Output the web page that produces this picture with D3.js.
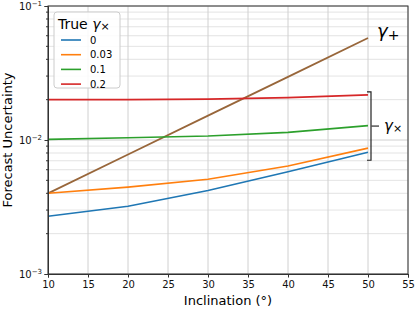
<!DOCTYPE html>
<html>
<head>
<meta charset="utf-8">
<script src="https://cdn.jsdelivr.net/npm/d3@7"></script>
<style>
  body { margin: 0; background: #fff; }
  text { font-family: "DejaVu Sans", sans-serif; }
</style>
</head>
<body>
<div id="chart"></div>
<script>
// data
var inclination = [10, 20, 30, 40, 50];
var trueGammaX = ["0", "0.03", "0.1", "0.2"];
var colors = ["#1f77b4", "#ff7f0e", "#2ca02c", "#d62728"];
var uncGamma0 = [0.0027, 0.0032, 0.0042, 0.0058, 0.0081];
var uncGamma003 = [0.0040, 0.00445, 0.0051, 0.0064, 0.0087];
var uncGamma01 = [0.0101, 0.0104, 0.0107, 0.0114, 0.0128];
var uncGamma02 = [0.0200, 0.0200, 0.0202, 0.0207, 0.0217];
var uncGammaPlus = [0.0040, 0.0078, 0.0152, 0.0296, 0.0577];
var xTicks = [10, 15, 20, 25, 30, 35, 40, 45, 50, 55];
var yMajor = [0.001, 0.01, 0.1];

var series = [uncGamma0, uncGamma003, uncGamma01, uncGamma02];

var margin = { top: 6, right: 7, bottom: 35, left: 48 },
    width = 415 - margin.left - margin.right,
    height = 309 - margin.top - margin.bottom;

var svg = d3.select("#chart")
  .append("svg")
    .attr("width", 415)
    .attr("height", 309)
  .append("g")
    .attr("transform", "translate(" + margin.left + "," + margin.top + ")");

var x = d3.scaleLinear().domain([10, 55]).range([0, width]);
var y = d3.scaleLog().domain([0.001, 0.1]).range([height, 0]);

// minor values on the log axis
var yMinor = [];
[0.001, 0.01].forEach(function (d) {
  for (var k = 2; k <= 9; k++) yMinor.push(d * k);
});

// grid
svg.append("g").selectAll("line.minor")
  .data(yMinor).enter().append("line")
    .attr("x1", 0).attr("x2", width)
    .attr("y1", function (d) { return y(d); })
    .attr("y2", function (d) { return y(d); })
    .attr("stroke", "#dcdcdc").attr("stroke-width", 0.8);
svg.append("g").selectAll("line.major")
  .data(yMajor).enter().append("line")
    .attr("x1", 0).attr("x2", width)
    .attr("y1", function (d) { return y(d); })
    .attr("y2", function (d) { return y(d); })
    .attr("stroke", "#d0d0d0").attr("stroke-width", 1);
svg.append("g").selectAll("line.vx")
  .data(xTicks).enter().append("line")
    .attr("x1", function (d) { return x(d); })
    .attr("x2", function (d) { return x(d); })
    .attr("y1", 0).attr("y2", height)
    .attr("stroke", "#d0d0d0").attr("stroke-width", 1);

// lines
var line = d3.line()
  .x(function (d, i) { return x(inclination[i]); })
  .y(function (d) { return y(d); });

svg.append("path")
  .datum(uncGammaPlus)
  .attr("d", line)
  .attr("fill", "none")
  .attr("stroke", "#98663a")
  .attr("stroke-width", 1.8);

series.forEach(function (s, i) {
  svg.append("path")
    .datum(s)
    .attr("d", line)
    .attr("fill", "none")
    .attr("stroke", colors[i])
    .attr("stroke-width", 1.6);
});

// axes
var xAxis = svg.append("g")
  .attr("transform", "translate(0," + height + ")")
  .call(d3.axisBottom(x).tickValues(xTicks).tickSize(3.5).tickPadding(3));
var yAxis = svg.append("g")
  .call(d3.axisLeft(y).tickValues(yMajor).tickSize(3.5).tickFormat(""));
svg.append("g").selectAll("line.ymt")
  .data(yMinor).enter().append("line")
    .attr("x1", -2).attr("x2", 0)
    .attr("y1", function (d) { return y(d); })
    .attr("y2", function (d) { return y(d); })
    .attr("stroke", "#333");

[xAxis, yAxis].forEach(function (a) {
  a.select(".domain").attr("stroke", "#333");
  a.selectAll(".tick line").attr("stroke", "#333");
  a.selectAll("text").attr("font-size", 10).attr("fill", "#111")
    .attr("font-family", "DejaVu Sans");
});

// y tick labels with superscripts
yMajor.forEach(function (d) {
  var t = svg.append("text")
    .attr("x", -6)
    .attr("y", y(d) + 4)
    .attr("text-anchor", "end")
    .attr("font-size", 10)
    .attr("fill", "#111");
  t.append("tspan").text("10");
  t.append("tspan").attr("dy", -4).attr("font-size", 7)
    .text("\u2212" + Math.round(-Math.log10(d)));
});

// frame right/top
svg.append("rect")
  .attr("width", width).attr("height", height)
  .attr("fill", "none").attr("stroke", "#333").attr("stroke-width", 1);

// axis labels
svg.append("text")
  .attr("x", width / 2).attr("y", height + 31)
  .attr("text-anchor", "middle")
  .attr("font-size", 13)
  .text("Inclination (\u00b0)");
svg.append("text")
  .attr("transform", "translate(" + (-36) + "," + (height / 2) + ") rotate(-90)")
  .attr("text-anchor", "middle")
  .attr("font-size", 13)
  .text("Forecast Uncertainty");

// annotations: gamma+ and bracket for gamma x
var xEnd = x(inclination[inclination.length - 1]);
svg.append("text")
  .attr("x", xEnd + 9).attr("y", y(uncGammaPlus[4]) - 1)
  .attr("font-size", 18)
  .html("<tspan font-style='italic'>\u03b3</tspan><tspan font-size='14' dy='3'>+</tspan>");

var bTop = y(uncGamma02[4]) - 3, bBot = y(uncGamma0[4]) + 8;
var bx = xEnd + 3;
svg.append("path")
  .attr("d", "M" + (bx - 4) + "," + bTop + "H" + bx + "V" + bBot + "H" + (bx - 4))
  .attr("fill", "none").attr("stroke", "#222").attr("stroke-width", 1.2);
svg.append("line")
  .attr("x1", bx).attr("x2", bx + 8)
  .attr("y1", (bTop + bBot) / 2).attr("y2", (bTop + bBot) / 2)
  .attr("stroke", "#555").attr("stroke-width", 1.5);
svg.append("text")
  .attr("x", bx + 13).attr("y", (bTop + bBot) / 2 + 5)
  .attr("font-size", 15)
  .html("<tspan font-style='italic'>\u03b3</tspan><tspan font-size='11' dy='1'>\u00d7</tspan>");

// legend
var legend = svg.append("g").attr("transform", "translate(6,6)");
legend.append("rect")
  .attr("width", 66).attr("height", 76).attr("rx", 3)
  .attr("fill", "#fff").attr("fill-opacity", 0.85)
  .attr("stroke", "#ccc");
legend.append("text")
  .attr("x", 4).attr("y", 17)
  .attr("font-size", 14)
  .html("True <tspan font-style='italic'>\u03b3</tspan><tspan font-size='11' dy='1'>\u00d7</tspan>");
trueGammaX.forEach(function (g, i) {
  var ly = 28 + i * 14.7;
  legend.append("line")
    .attr("x1", 7).attr("x2", 27)
    .attr("y1", ly).attr("y2", ly)
    .attr("stroke", colors[i]).attr("stroke-width", 1.6);
  legend.append("text")
    .attr("x", 36).attr("y", ly + 3.5)
    .attr("font-size", 10)
    .text(g);
});
</script>
</body>
</html>
